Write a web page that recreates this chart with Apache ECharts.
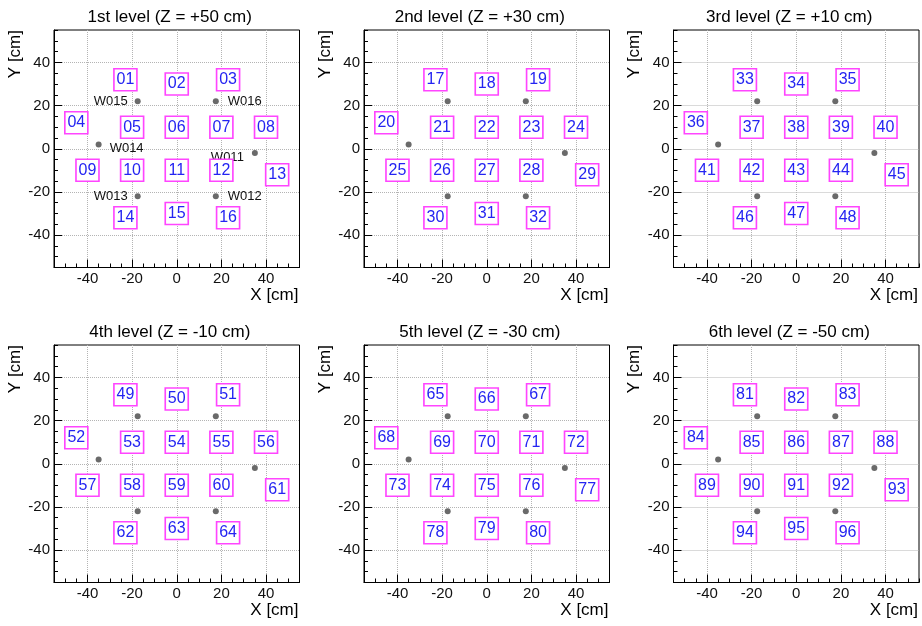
<!DOCTYPE html>
<html>
<head>
<meta charset="utf-8">
<script src="https://cdn.jsdelivr.net/npm/echarts@6/dist/echarts.min.js"></script>
<style>
  html, body { margin: 0; padding: 0; background: #fff; }
  #chart { width: 922px; height: 626px; }
</style>
</head>
<body>
<div id="chart"></div>
<script>
// Detector levels, one panel each
const levelTitles = [
  '1st level (Z = +50 cm)', '2nd level (Z = +30 cm)', '3rd level (Z = +10 cm)',
  '4th level (Z = -10 cm)', '5th level (Z = -30 cm)', '6th level (Z = -50 cm)'
];

// Pad identifiers per level
const level1Ids = ['01','02','03','04','05','06','07','08','09','10','11','12','13','14','15','16'];
const level2Ids = ['17','18','19','20','21','22','23','24','25','26','27','28','29','30','31','32'];
const level3Ids = ['33','34','35','36','37','38','39','40','41','42','43','44','45','46','47','48'];
const level4Ids = ['49','50','51','52','53','54','55','56','57','58','59','60','61','62','63','64'];
const level5Ids = ['65','66','67','68','69','70','71','72','73','74','75','76','77','78','79','80'];
const level6Ids = ['81','82','83','84','85','86','87','88','89','90','91','92','93','94','95','96'];
const levelIds = [level1Ids, level2Ids, level3Ids, level4Ids, level5Ids, level6Ids];

// Pad positions in the XY plane [cm], same layout on every level
const padX = [-23, 0, 23, -45, -20, 0, 20, 40, -40, -20, 0, 20, 45, -23, 0, 23];
const padY = [32, 30, 32, 12, 10, 10, 10, 10, -10, -10, -10, -10, -12, -32, -30, -32];

// Wire positions [cm]
const wireNames = ['W015', 'W016', 'W014', 'W011', 'W013', 'W012'];
const wireX = [-17.5, 17.5, -35, 35, -17.5, 17.5];
const wireY = [22, 22, 2, -2, -22, -22];

// Axis range and labelled ticks
const axisMin = -55, axisMax = 55;
const tickValues = [-40, -20, 0, 20, 40];

const FONT = '"Liberation Sans", Arial, Helvetica, sans-serif';

// Panel frames
const colLeft = [54, 364, 673.5];
const rowTop = [30, 345];
const PW = 245.5, PH = 237.5;

// Where each wire name sits relative to its marker
const wireLabelStyle = {
  W015: { position: 'left', distance: 7 },
  W016: { position: 'right', distance: 9 },
  W014: { position: 'right', distance: 8, offset: [0, 4] },
  W011: { position: 'left', distance: 8, offset: [0, 4] },
  W013: { position: 'left', distance: 7 },
  W012: { position: 'right', distance: 9 }
};

const grids = [], xAxes = [], yAxes = [], series = [], graphics = [];

levelTitles.forEach((title, i) => {
  const col = i % 3, row = Math.floor(i / 3);
  const left = colLeft[col], top = rowTop[row];
  grids.push({ left, top, width: PW, height: PH, show: true,
    borderColor: '#000', borderWidth: 1, backgroundColor: 'transparent' });

  // Fine ticks every 5 cm along the frame
  const minorAxis = (pos) => ({
    gridIndex: i, type: 'value', min: axisMin, max: axisMax, interval: 5, position: pos,
    axisLine: { show: true, onZero: false, lineStyle: { color: '#000', width: 1 } },
    axisTick: { show: true, inside: true, length: 4, lineStyle: { color: '#000' } },
    axisLabel: { show: false }, splitLine: { show: false }
  });
  // Labelled ticks and dotted grid every 20 cm
  const majorAxis = (pos) => ({
    gridIndex: i, type: 'value', min: axisMin, max: axisMax, position: pos,
    axisLine: { show: false, onZero: false },
    axisTick: { show: true, inside: true, length: 8, customValues: tickValues,
      lineStyle: { color: '#000' } },
    axisLabel: { show: true, customValues: tickValues, margin: 4,
      fontSize: 15, color: '#111', fontFamily: FONT },
    splitLine: { show: true, lineStyle: { type: 'dotted', color: '#b4b4b4', width: 1 } }
  });
  xAxes.push(minorAxis('bottom'), majorAxis('bottom'));
  yAxes.push(minorAxis('left'), majorAxis('left'));

  const ids = levelIds[i];
  // Readout pads
  series.push({
    type: 'scatter', xAxisIndex: 2 * i + 1, yAxisIndex: 2 * i + 1, z: 4,
    symbol: 'rect', symbolSize: [23, 22],
    itemStyle: { color: '#fff', borderColor: '#ff45ff', borderWidth: 1.6, opacity: 1 },
    label: { show: true, position: 'inside', formatter: p => p.data[2],
      color: '#2424f2', fontSize: 16, fontFamily: FONT },
    emphasis: { disabled: true },
    data: ids.map((id, k) => [padX[k], padY[k], id])
  });
  // Wires
  series.push({
    type: 'scatter', xAxisIndex: 2 * i + 1, yAxisIndex: 2 * i + 1, z: 3,
    symbol: 'circle', symbolSize: 6,
    itemStyle: { color: '#6a6a6a', opacity: 1 },
    emphasis: { disabled: true },
    data: wireNames.map((name, k) => {
      const item = { value: [wireX[k], wireY[k]], name };
      if (i === 0) {
        const s = wireLabelStyle[name];
        item.label = Object.assign({ show: true, formatter: name, color: '#111',
          fontSize: 13, fontFamily: FONT }, s);
      }
      return item;
    })
  });

  // Panel title and axis titles
  graphics.push({
    type: 'text', x: left + PW / 2 - 7, y: top - 13,
    style: { text: title, fill: '#000', font: '17px ' + FONT, align: 'center', verticalAlign: 'middle' }
  });
  graphics.push({
    type: 'text', x: left + PW - 1, y: top + PH + 28,
    style: { text: 'X [cm]', fill: '#000', font: '17px ' + FONT, align: 'right', verticalAlign: 'middle' }
  });
  graphics.push({
    type: 'text', x: left - 39, y: top, rotation: Math.PI / 2,
    style: { text: 'Y [cm]', fill: '#000', font: '17px ' + FONT, align: 'right', verticalAlign: 'middle' }
  });
});

const chart = echarts.init(document.getElementById('chart'), null, { renderer: 'canvas' });
chart.setOption({
  animation: false,
  backgroundColor: '#fff',
  grid: grids,
  xAxis: xAxes,
  yAxis: yAxes,
  series,
  graphic: graphics
});
</script>
</body>
</html>
